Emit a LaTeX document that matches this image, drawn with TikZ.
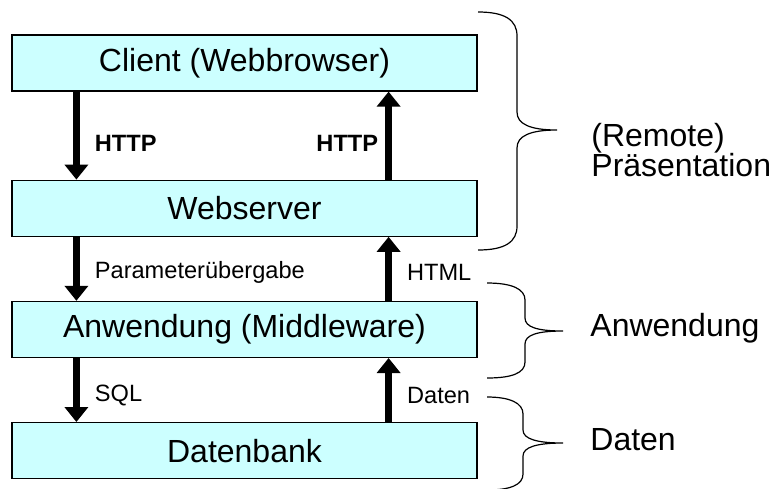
\documentclass[tikz,border=0pt]{standalone}
\usepackage{fontspec}
\setmainfont{Liberation Sans}
\usetikzlibrary{arrows.meta, positioning}
\definecolor{cLayer}{HTML}{CCFFFF}
\definecolor{cLine}{HTML}{000000}
\tikzset{
  layer/.style = {
    rectangle,
    draw=cLine,
    line width=0.6pt,
    fill=cLayer,
    minimum width=232.5pt,
    minimum height=28pt,
    inner sep=0pt,
    font=\fontsize{16}{18}\selectfont
  },
  flow/.style = {
    draw,
    color=cLine,
    line width=3.5pt,
    -{Triangle[width=11.5pt,length=7.5pt]},
  },
  proto/.style = {
    inner sep=0pt,
    font=\fontsize{11.8}{14}\selectfont\bfseries
  },
  msg/.style = {
    inner sep=0pt,
    font=\fontsize{11.8}{14}\selectfont
  },
  tier/.style = {
    anchor=west,
    align=left,
    inner sep=0pt,
    font=\fontsize{16}{15}\selectfont
  },
  brace/.style = {
    draw,
    color=cLine,
    line width=0.6pt
  },
}

\begin{document}
\begin{tikzpicture}[x=0.5pt, y=-0.5pt]
    \useasboundingbox (0,0) rectangle (774,488);
    \clip (0,0) rectangle (774,488);
    % Schichten
    \node [layer] (client) at (244.5,63) {Client (Webbrowser)};
    \node [layer, below=44pt of client] (web) {Webserver};
    \node [layer, below=32pt of web] (app) {Anwendung (Middleware)};
    \node [layer, below=32pt of app] (db) {Datenbank};
    % Anfragen nach unten
    \path [flow] ([xshift=32.5pt]client.south west) -- ([xshift=32.5pt]web.north west)
      node [proto, pos=.585, anchor=west, xshift=7.5pt] (req-1) {HTTP};
    \path [flow] ([xshift=32.5pt]web.south west) -- ([xshift=32.5pt]app.north west)
      node [msg, pos=.56, anchor=west, xshift=7.5pt] (req-2) {Parameterübergabe};
    \path [flow] ([xshift=32.5pt]app.south west) -- ([xshift=32.5pt]db.north west)
      node [msg, pos=.58, anchor=west, xshift=7.5pt] (req-3) {SQL};
    % Antworten nach oben
    \path [flow] ([xshift=-44.5pt]web.north east) -- ([xshift=-44.5pt]client.south east)
      node [proto, pos=.415, anchor=east, xshift=-3.5pt] (resp-1) {HTTP};
    \path [flow] ([xshift=-44.5pt]app.north east) -- ([xshift=-44.5pt]web.south east)
      node [msg, pos=.44, anchor=west, xshift=7.5pt] (resp-2) {HTML};
    \path [flow] ([xshift=-44.5pt]db.north east) -- ([xshift=-44.5pt]app.south east)
      node [msg, pos=.42, anchor=west, xshift=7.5pt] (resp-3) {Daten};
    % Klammern
    \draw [brace] (478,12) .. controls (505,12) and (517,20) .. (517,36) -- (517,112)
      .. controls (517,124) and (530,130) .. (557,130)
      .. controls (530,130) and (517,136) .. (517,148) -- (517,226)
      .. controls (517,242) and (505,250) .. (478,250);
    \draw [brace] (487,283) .. controls (512,283) and (525,289) .. (525,300) -- (525,318)
      .. controls (525,327) and (537,331) .. (563,331)
      .. controls (537,331) and (525,335) .. (525,344) -- (525,362)
      .. controls (525,373) and (512,378) .. (487,378);
    \draw [brace] (487,397) .. controls (510,397) and (523,403) .. (523,414) -- (523,430)
      .. controls (523,439) and (537,443) .. (563,443)
      .. controls (537,443) and (523,447) .. (523,456) -- (523,474)
      .. controls (523,485) and (510,490) .. (487,490);
    \node [tier] (t-praes) at (591,150) {(Remote)\\Präsentation};
    \node [tier] (t-app) at (590,328) {Anwendung};
    \node [tier] (t-data) at (590,440) {Daten};
  \end{tikzpicture}
\end{document}
